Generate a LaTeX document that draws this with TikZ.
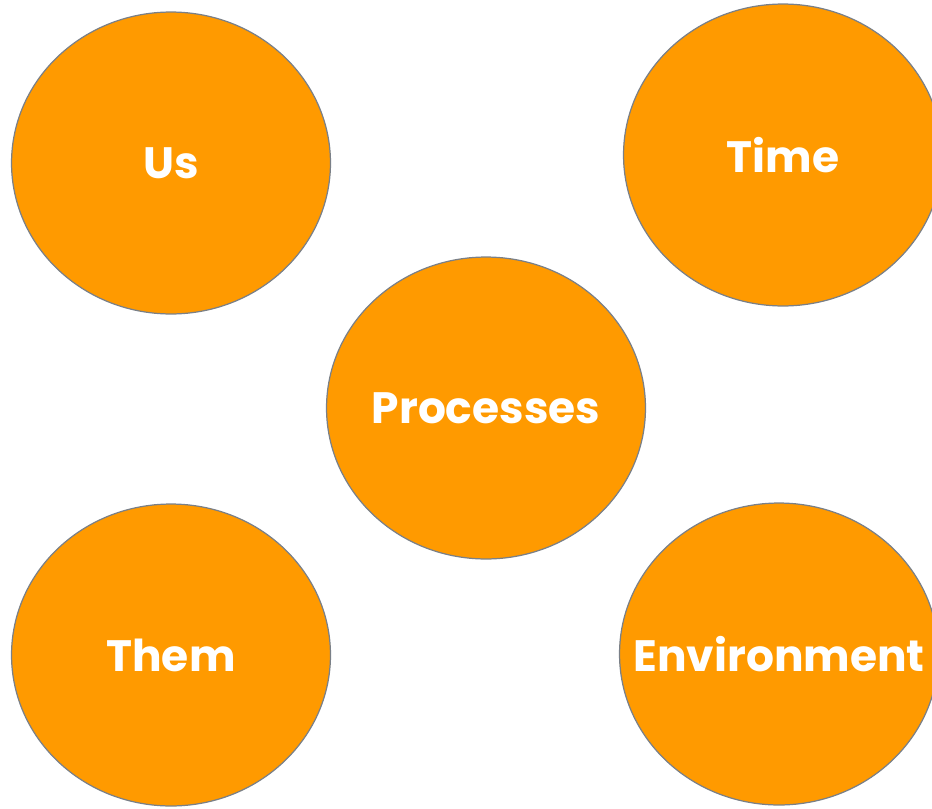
\documentclass[tikz,border=0pt]{standalone}
\usepackage{fontspec}
\setsansfont{Poppins}
\usetikzlibrary{shapes.geometric}
\definecolor{blobfill}{HTML}{FF9A00}
\definecolor{blobline}{HTML}{7A8088}
\tikzset{
	blob/.style={ellipse, draw=blobline, line width=0.7pt, fill=blobfill,
		minimum width=6.38cm, minimum height=6.04cm, inner sep=0pt},
	blobtext/.style={text=white, inner sep=0pt,
		font=\sffamily\bfseries\fontsize{25}{30}\selectfont}
}
\begin{document}
\begin{tikzpicture}[x=0.02cm, y=-0.02cm]
		\useasboundingbox (0,0) rectangle (932,808);
		\coordinate (U) at (171,163);
		\coordinate (T) at (783,155);
		\coordinate (P) at (486,408);
		\coordinate (H) at (171,655);
		\coordinate (E) at (779,654);
		\node[blob, label={[blobtext]center:Us}] (us) at (U) {};
		\node[blob, label={[blobtext]center:Time}] (time) at (T) {};
		\node[blob, label={[blobtext]center:Processes}] (proc) at (P) {};
		\node[blob, label={[blobtext]center:Them}] (them) at (H) {};
		\node[blob, label={[blobtext]center:Environment}] (env) at (E) {};
	\end{tikzpicture}
\end{document}
